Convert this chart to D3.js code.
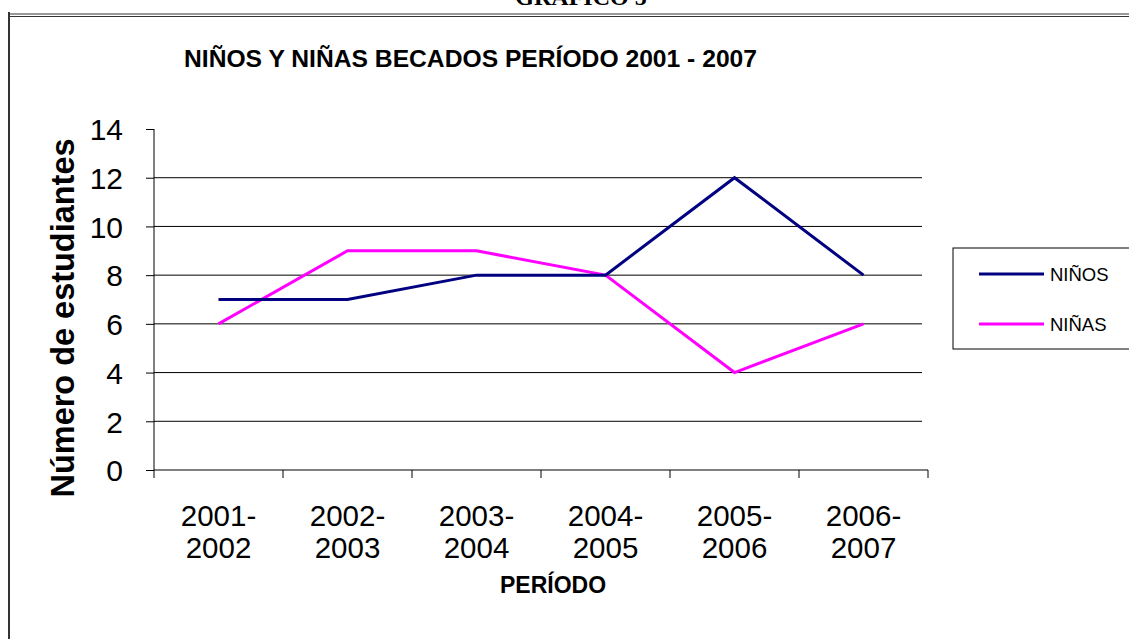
<!DOCTYPE html>
<html>
<head>
<meta charset="utf-8">
<script src="https://cdn.jsdelivr.net/npm/d3@7"></script>
<style>
  body { margin: 0; background: #fff; }
  svg { display: block; font-family: "Liberation Sans", Arial, sans-serif; }
</style>
</head>
<body>
<script>
const periods = ['2001-2002', '2002-2003', '2003-2004', '2004-2005', '2005-2006', '2006-2007']
const ninos = [7, 7, 8, 8, 12, 8]
const ninas = [6, 9, 9, 8, 4, 6]
const yTicks = [0, 2, 4, 6, 8, 10, 12, 14]

const w = 1129
const h = 639
const plotLeft = 154, plotRight = 928, plotTop = 129, plotBottom = 470

const svg = d3.select('body')
     .append('svg')
     .attr('width', w)
     .attr('height', h)

// page frame
svg.append('text')
     .attr('x', 581).attr('y', 5)
     .attr('text-anchor', 'middle')
     .attr('font-family', '"Liberation Serif", "Times New Roman", serif')
     .attr('font-weight', 'bold')
     .attr('font-size', 24)
     .text('GRAFICO 5')
svg.append('line').attr('x1', 8).attr('x2', w).attr('y1', 14).attr('y2', 14).attr('stroke', '#333').attr('stroke-width', 1)
svg.append('line').attr('x1', 8).attr('x2', w).attr('y1', 16.5).attr('y2', 16.5).attr('stroke', '#333').attr('stroke-width', 1)
svg.append('line').attr('x1', 9).attr('x2', 9).attr('y1', 12).attr('y2', h).attr('stroke', '#333').attr('stroke-width', 2)

const xScale = d3.scaleBand()
     .domain(periods)
     .range([plotLeft, plotRight])
const yScale = d3.scaleLinear()
     .domain([0, 14])
     .range([plotBottom, plotTop])

// title
svg.append('text')
     .attr('x', 184).attr('y', 67)
     .attr('font-size', 23)
     .attr('font-weight', 'bold')
     .attr('textLength', 573)
     .attr('lengthAdjust', 'spacingAndGlyphs')
     .text('NIÑOS Y NIÑAS BECADOS PERÍODO 2001 - 2007')

// gridlines
svg.append('g')
     .selectAll('line')
     .data(yTicks.filter(d => d > 0 && d < 14))
     .enter()
     .append('line')
     .attr('x1', plotLeft).attr('x2', plotRight - 6)
     .attr('y1', d => yScale(d)).attr('y2', d => yScale(d))
     .attr('stroke', '#000')
     .attr('stroke-width', 1)

const yAxis = d3.axisLeft(yScale).tickValues(yTicks).tickSize(8).tickPadding(23)
const yg = svg.append('g')
     .attr('id', 'y-axis')
     .attr('transform', 'translate(' + plotLeft + ',0)')
     .call(yAxis)
yg.select('.domain').attr('d', 'M0,' + plotTop + 'V' + plotBottom)
yg.selectAll('text').attr('font-size', 30).attr('font-family', '"Liberation Sans", Arial, sans-serif').attr('fill', '#000').attr('dy', '0.36em')

const xAxis = d3.axisBottom(xScale).tickSize(0).tickFormat('')
const xg = svg.append('g')
     .attr('id', 'x-axis')
     .attr('transform', 'translate(0,' + plotBottom + ')')
     .call(xAxis)
xg.select('.domain').attr('d', 'M' + plotLeft + ',0H' + plotRight)
xg.selectAll('.sep')
     .data(periods.concat(['end']))
     .enter()
     .append('line')
     .attr('x1', (d, i) => plotLeft + i * xScale.step())
     .attr('x2', (d, i) => plotLeft + i * xScale.step())
     .attr('y1', 0).attr('y2', 8)
     .attr('stroke', '#000')

// category labels on two lines
const lab = svg.append('g')
     .selectAll('text')
     .data(periods)
     .enter()
     .append('text')
     .attr('text-anchor', 'middle')
     .attr('font-size', 29.5)
     .attr('x', d => xScale(d) + xScale.bandwidth() / 2)
lab.append('tspan').attr('y', 526).text(d => d.split('-')[0] + '-')
lab.append('tspan').attr('x', d => xScale(d) + xScale.bandwidth() / 2).attr('y', 558).text(d => d.split('-')[1])

svg.append('text')
     .attr('x', 553).attr('y', 593)
     .attr('text-anchor', 'middle')
     .attr('font-weight', 'bold')
     .attr('font-size', 23)
     .text('PERÍODO')

svg.append('text')
     .attr('transform', 'translate(74,318) rotate(-90)')
     .attr('text-anchor', 'middle')
     .attr('font-weight', 'bold')
     .attr('font-size', 33)
     .attr('textLength', 359)
     .attr('lengthAdjust', 'spacingAndGlyphs')
     .text('Número de estudiantes')

const line = d3.line()
     .x((d, i) => xScale(periods[i]) + xScale.bandwidth() / 2)
     .y(d => yScale(d))

svg.append('path').datum(ninas).attr('d', line)
     .attr('fill', 'none').attr('stroke', '#ff00ff').attr('stroke-width', 3)
svg.append('path').datum(ninos).attr('d', line)
     .attr('fill', 'none').attr('stroke', '#000080').attr('stroke-width', 3)

// legend
const legend = svg.append('g')
legend.append('rect')
     .attr('x', 953).attr('y', 248).attr('width', 190).attr('height', 101)
     .attr('fill', 'none').attr('stroke', '#000').attr('stroke-width', 1)
const items = [['NIÑOS', '#000080'], ['NIÑAS', '#ff00ff']]
items.forEach((it, i) => {
     const y = 274 + i * 50
     legend.append('line').attr('x1', 979).attr('x2', 1044).attr('y1', y).attr('y2', y)
          .attr('stroke', it[1]).attr('stroke-width', 3)
     legend.append('text').attr('x', 1050).attr('y', y + 6.5).attr('font-size', 18.5).text(it[0])
})
</script>
</body>
</html>
